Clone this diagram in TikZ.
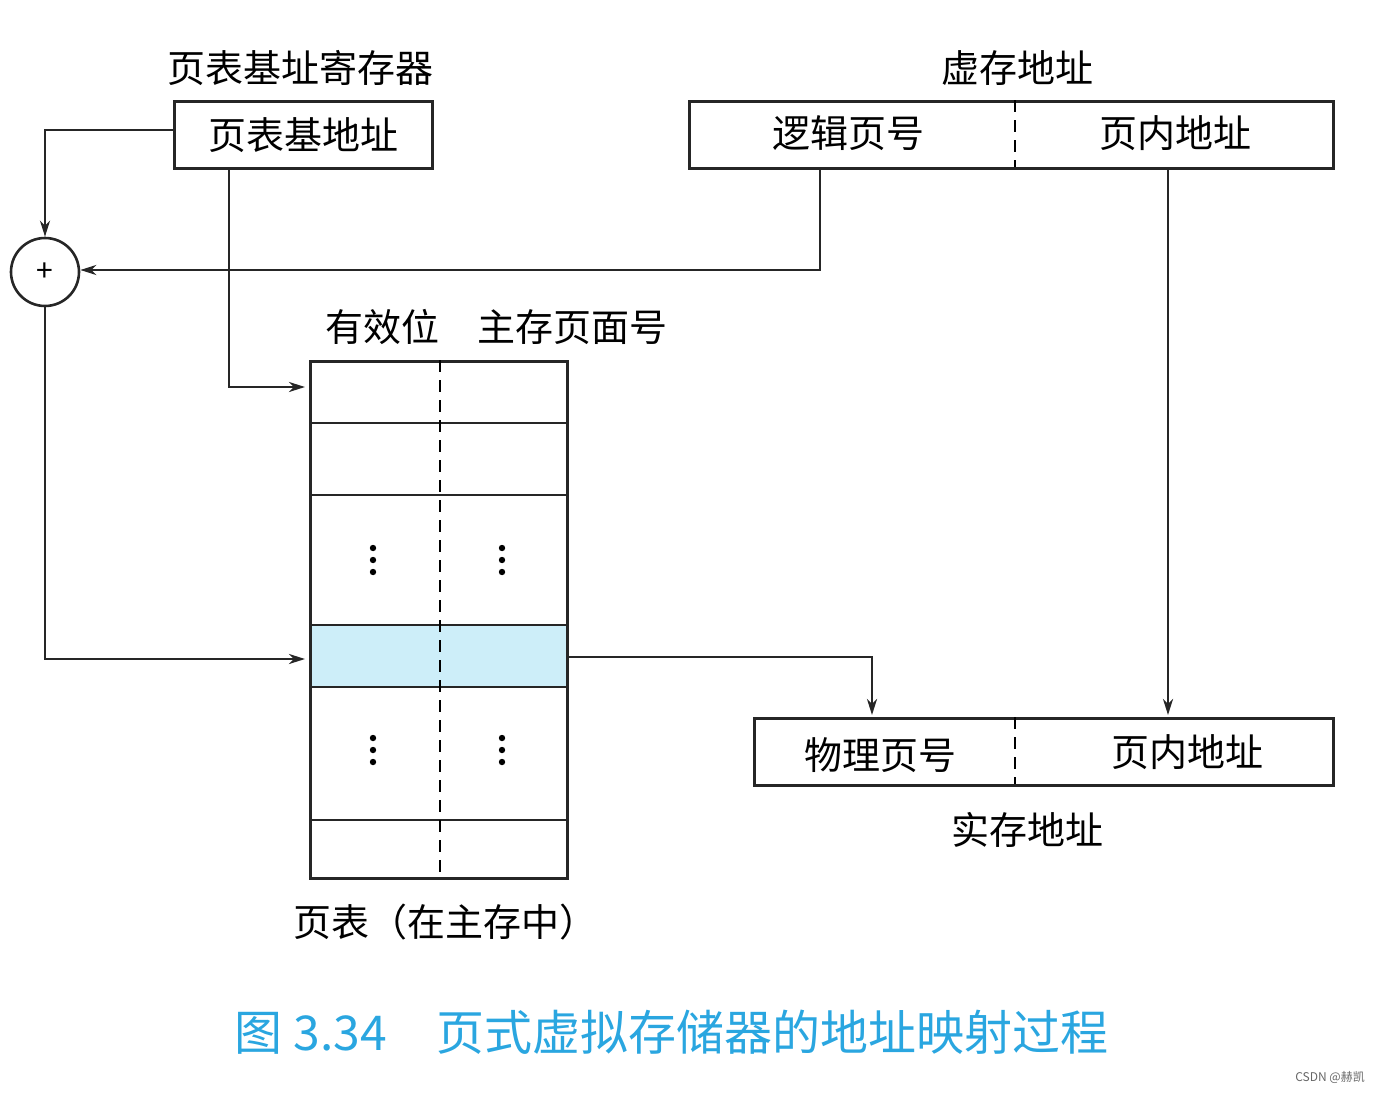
\documentclass[tikz,border=0pt]{standalone}
\usepackage{fontspec}
\setmainfont{Noto Sans CJK SC}
\usetikzlibrary{arrows.meta}
\definecolor{hl}{HTML}{CDEEF9}
\definecolor{cap}{HTML}{2AA6E0}
\tikzset{
 ln/.style={line width=2.6pt,draw=black!85},
 arr/.style={ln,-{Stealth[length=16pt,width=10pt,inset=5pt]}},
 lbl/.style={font=\fontsize{38}{42}\selectfont,inner sep=0pt},
 dsh/.style={line width=2.6pt,dash pattern=on 12pt off 8pt}
}
\begin{document}
\begin{tikzpicture}[x=1pt,y=-1pt]
\useasboundingbox (0,0) rectangle (1380,1092);
% base register
\node[lbl] (t1) at (300,68) {页表基址寄存器};
\node[ln,draw,minimum width=258pt,minimum height=67pt,anchor=north west,lbl] (base) at (173,100) {页表基地址};
% virtual address
\node[lbl] (t2) at (1017,68) {虚存地址};
\node[ln,draw,minimum width=644pt,minimum height=67pt,anchor=north west] (va) at (688,100) {};
\draw[dsh] (1015,100) -- (1015,167);
\node[lbl] (lp) at (848,133) {逻辑页号};
\node[lbl] (off1) at (1175,133) {页内地址};
% adder
\node[ln,draw,circle,minimum size=68pt,inner sep=0pt,font=\fontsize{30}{30}\selectfont] (add) at (45,272) {+};
\coordinate (c1) at (45,130);
\draw[arr] (base.west |- c1) -- (c1) -- (add.north);
\coordinate (c2) at (820,270);
\draw[arr] (820,167) -- (c2) -- (add.east |- c2);
% page table
\fill[hl] (309,625) rectangle (566,687);
\node[ln,draw,minimum width=257pt,minimum height=517pt,anchor=north west] (pt) at (309,360) {};
\foreach \y in {423,495,625,687,820} \draw[ln] (309,\y) -- (566,\y);
\draw[dsh] (440,360) -- (440,877);
\foreach \x in {373,502} \foreach \y in {560,750} {
 \foreach \d in {-12,0,12} \fill (\x,\y+\d) circle (3.2pt);}
\node[lbl] (h1) at (382,327) {有效位};
\node[lbl] (h2) at (572,327) {主存页面号};
\node[lbl] (ptl) at (445,922) {页表（在主存中）};
\coordinate (e1) at (305,387);
\draw[arr] (229,167) -- (229,387) -- (e1);
\coordinate (e2) at (305,659);
\draw[arr] (add.south) -- (45,659) -- (e2);
% real address
\node[ln,draw,minimum width=579pt,minimum height=67pt,anchor=north west] (ra) at (753,717) {};
\draw[dsh] (1015,717) -- (1015,784);
\node[lbl] (pp) at (880,755) {物理页号};
\node[lbl] (off2) at (1187,752) {页内地址};
\node[lbl] (t3) at (1027,830) {实存地址};
\draw[arr] (566,657) -- (872,657) -- (872,715);
\draw[arr] (1168,167) -- (1168,715);
% caption
\node[lbl,text=cap,font=\fontsize{48}{52}\selectfont] (capt) at (672,1032) {图 3.34\hspace{50pt}页式虚拟存储器的地址映射过程};
\node[inner sep=0pt,text=black!60,font=\fontsize{12}{14}\selectfont,anchor=east] (csdn) at (1365,1077) {CSDN @赫凯};
\end{tikzpicture}
\end{document}
